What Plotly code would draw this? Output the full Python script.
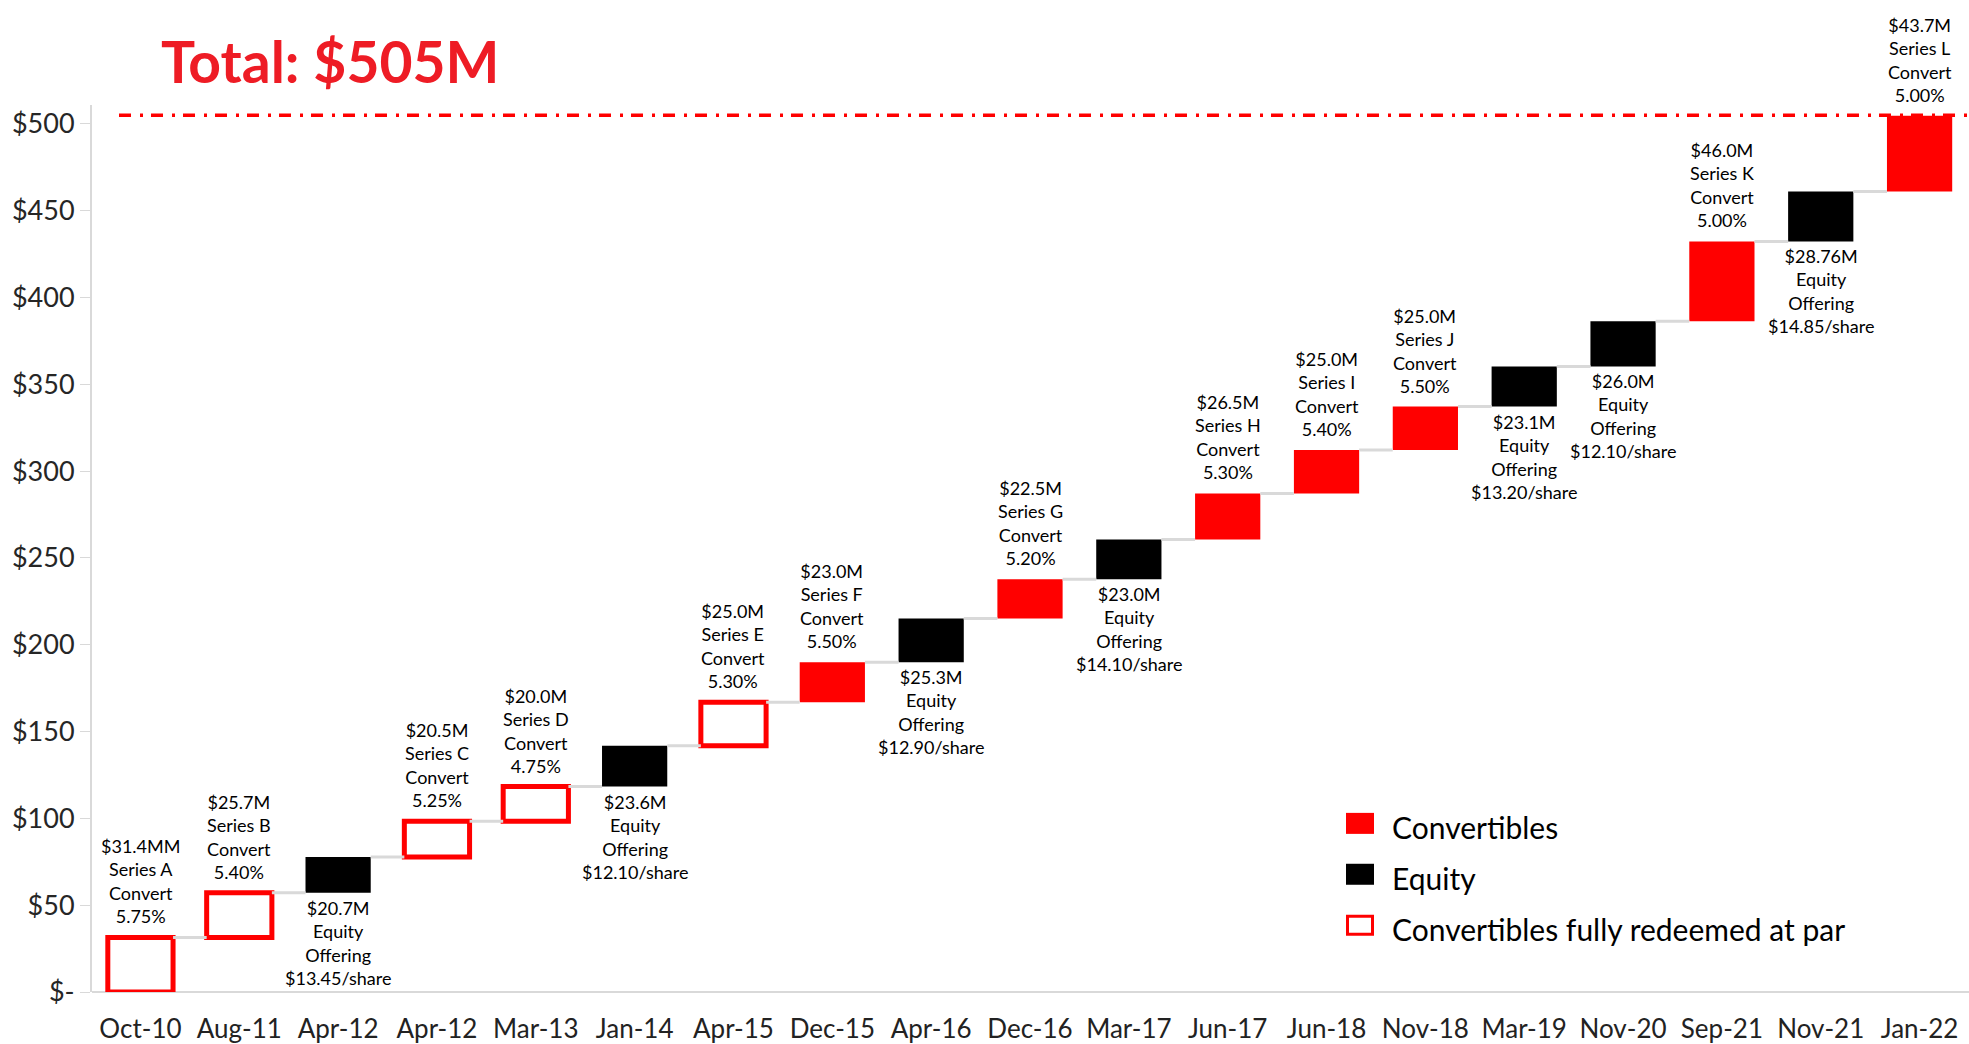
import plotly.graph_objects as go

# capital raises in order, $M
dates = ["Oct-10", "Aug-11", "Apr-12", "Apr-12", "Mar-13", "Jan-14", "Apr-15", "Dec-15", "Apr-16",
         "Dec-16", "Mar-17", "Jun-17", "Jun-18", "Nov-18", "Mar-19", "Nov-20", "Sep-21", "Nov-21", "Jan-22"]
amounts = [31.4, 25.7, 20.7, 20.5, 20.0, 23.6, 25.0, 23.0, 25.3, 22.5, 23.0, 26.5, 25.0, 25.0, 23.1,
           26.0, 46.0, 28.76, 43.7]
kinds = ["redeemed", "redeemed", "equity", "redeemed", "redeemed", "equity", "redeemed", "convert", "equity",
         "convert", "equity", "convert", "convert", "convert", "equity", "equity", "convert", "equity", "convert"]
labels = [
    "$31.4MM<br>Series A<br>Convert<br>5.75%",
    "$25.7M<br>Series B<br>Convert<br>5.40%",
    "$20.7M<br>Equity<br>Offering<br>$13.45/share",
    "$20.5M<br>Series C<br>Convert<br>5.25%",
    "$20.0M<br>Series D<br>Convert<br>4.75%",
    "$23.6M<br>Equity<br>Offering<br>$12.10/share",
    "$25.0M<br>Series E<br>Convert<br>5.30%",
    "$23.0M<br>Series F<br>Convert<br>5.50%",
    "$25.3M<br>Equity<br>Offering<br>$12.90/share",
    "$22.5M<br>Series G<br>Convert<br>5.20%",
    "$23.0M<br>Equity<br>Offering<br>$14.10/share",
    "$26.5M<br>Series H<br>Convert<br>5.30%",
    "$25.0M<br>Series I<br>Convert<br>5.40%",
    "$25.0M<br>Series J<br>Convert<br>5.50%",
    "$23.1M<br>Equity<br>Offering<br>$13.20/share",
    "$26.0M<br>Equity<br>Offering<br>$12.10/share",
    "$46.0M<br>Series K<br>Convert<br>5.00%",
    "$28.76M<br>Equity<br>Offering<br>$14.85/share",
    "$43.7M<br>Series L<br>Convert<br>5.00%",
]
legend_kinds = ["convert", "equity", "redeemed"]
legend_names = ["Convertibles", "Equity", "Convertibles fully redeemed at par"]
total_line = 505
ytick_vals = [0, 50, 100, 150, 200, 250, 300, 350, 400, 450, 500]
ytick_text = ["$-", "$50", "$100", "$150", "$200", "$250", "$300", "$350", "$400", "$450", "$500"]

RED = "#FF0000"
BAR_W = 0.66
W, H = 1969, 1044
ML, MR, MT, MB = 92, 0, 105, 50

# running totals
starts, ends = [], []
run = 0
for a in amounts:
    starts.append(run)
    run += a
    ends.append(run)
idx = list(range(len(dates)))

fig = go.Figure()

# grey connectors between neighbouring bars
cx, cy = [], []
for i in range(len(dates) - 1):
    cx += [i + BAR_W / 2, i + 1 - BAR_W / 2, None]
    cy += [ends[i], ends[i], None]
fig.add_trace(go.Scatter(x=cx, y=cy, mode="lines", line=dict(color="#D9D9D9", width=3),
                         hoverinfo="skip", showlegend=False))

styles = {
    "convert": dict(color=RED, line=dict(color=RED, width=0)),
    "equity": dict(color="#000000", line=dict(color="#000000", width=0)),
    "redeemed": dict(color="white", line=dict(color=RED, width=5)),
}
for k in legend_kinds:
    sel = [i for i in idx if kinds[i] == k]
    fig.add_trace(go.Bar(
        x=sel, y=[amounts[i] for i in sel], base=[starts[i] for i in sel],
        width=BAR_W, marker=styles[k], showlegend=False, name=k,
    ))

# text labels: converts above the bar, equity below
for i in idx:
    if kinds[i] == "equity":
        fig.add_annotation(x=i, y=starts[i], text=labels[i], showarrow=False,
                           yanchor="top", yshift=-2, font=dict(size=18, color="#000"))
    else:
        fig.add_annotation(x=i, y=ends[i], text=labels[i], showarrow=False,
                           yanchor="bottom", yshift=8, font=dict(size=18, color="#000"))

# dash-dot total line
fig.add_shape(type="line", xref="paper", x0=(119 - ML) / (W - ML - MR), x1=1,
              y0=total_line, y1=total_line,
              line=dict(color=RED, width=3.5, dash="12px,9px,3px,8px"))

# hand-drawn legend (bigger swatches than plotly's legend allows)
def px_x(p):
    return (p - ML) / (W - ML - MR)

def px_y(p):
    return (H - MB - p) / (H - MT - MB)

for n, k in enumerate(legend_kinds):
    yc = 825 + n * 51
    if k == "redeemed":
        sw = dict(fillcolor="white", line=dict(color=RED, width=3))
        half_w, half_h = 12.5, 9
    else:
        sw = dict(fillcolor=styles[k]["color"], line=dict(width=0))
        half_w, half_h = 14, 10.5
    fig.add_shape(type="rect", xref="paper", yref="paper", xsizemode="pixel", ysizemode="pixel",
                  xanchor=px_x(1360), yanchor=px_y(yc), x0=-half_w, x1=half_w, y0=-half_h, y1=half_h, **sw)
    fig.add_annotation(xref="paper", yref="paper", x=px_x(1390), y=px_y(yc + 4), text=legend_names[n],
                       showarrow=False, xanchor="left", yanchor="middle", font=dict(size=30, color="#000"))

fig.update_layout(
    width=W, height=H,
    margin=dict(l=ML, r=MR, t=MT, b=MB),
    plot_bgcolor="white", paper_bgcolor="white",
    font=dict(family="Lato, sans-serif", color="#000"),
    barmode="overlay",
    showlegend=False,
    title=dict(text="Total: $505M", x=161 / W, xanchor="left", xref="container",
               y=1 - 63 / H, yanchor="middle", yref="container",
               font=dict(size=57, color="#EE1C25", weight="bold")),
    xaxis=dict(tickvals=idx, ticktext=dates, range=[-0.49, 18.5], showgrid=False, zeroline=False,
               showline=False, ticks="", ticklabelstandoff=19, tickfont=dict(size=26, color="#222")),
    yaxis=dict(range=[0, (H - MB - MT) / 1.74], tickvals=ytick_vals, ticktext=ytick_text, showgrid=False,
               zeroline=True, zerolinecolor="#D9D9D9", zerolinewidth=2,
               showline=True, linecolor="#D9D9D9", linewidth=2,
               ticks="outside", ticklen=10, tickcolor="#D9D9D9", tickwidth=1,
               tickfont=dict(size=27, color="#262626")),
)

fig.write_html("out.html", config={"displayModeBar": False},
               post_script="document.body.style.margin='0';")
